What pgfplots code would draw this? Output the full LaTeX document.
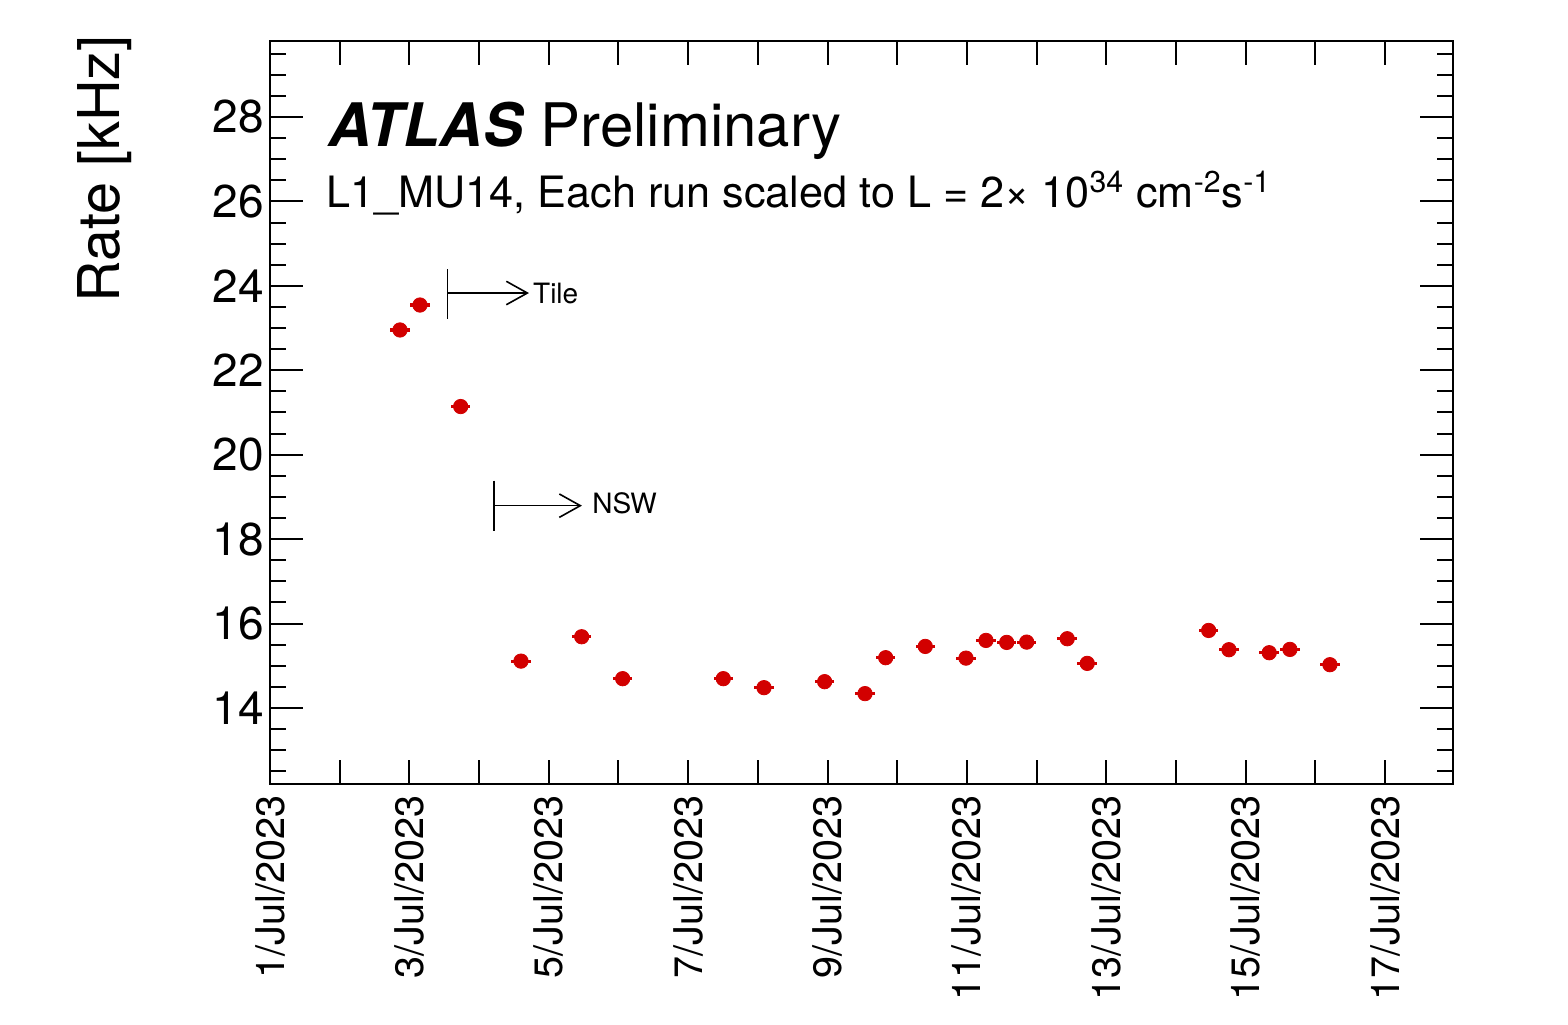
\documentclass[border=0pt]{standalone}
\usepackage{fontspec}
\setmainfont{TeX Gyre Heros}
\usepackage{pgfplots}
\pgfplotsset{compat=1.18}
\usetikzlibrary{arrows.meta}
\definecolor{rootred}{RGB}{210,0,0}

\pgfplotstableread{
x      y       ex
1.865  22.955  0.14
2.152  23.546  0.14
2.736  21.141  0.14
3.601  15.111  0.14
4.472  15.688  0.14
5.060  14.695  0.14
6.504  14.695  0.14
7.088  14.482  0.14
7.958  14.624  0.14
8.537  14.341  0.14
8.834  15.192  0.14
9.402  15.459  0.14
9.986  15.182  0.14
10.273 15.601  0.14
10.570 15.554  0.14
10.857 15.561  0.14
11.439 15.641  0.14
11.726 15.057  0.14
13.468 15.837  0.14
13.759 15.381  0.14
14.337 15.310  0.14
14.634 15.388  0.14
15.208 15.026  0.14
}\ratedata

\begin{document}
\begin{tikzpicture}
\path[use as bounding box] (0,0) rectangle (784pt,512pt);
\begin{axis}[
  at={(135pt,120pt)}, anchor=south west,
  scale only axis, width=591.35pt, height=371.5pt,
  xmin=0, xmax=16.97, ymin=12.2, ymax=29.8,
  axis line style={line width=1.2pt},
  every tick/.style={black, line width=1pt},
  tick align=inside,
  xtick={0,1,...,16},
  xticklabels={1/Jul/2023,,3/Jul/2023,,5/Jul/2023,,7/Jul/2023,,9/Jul/2023,,11/Jul/2023,,13/Jul/2023,,15/Jul/2023,,17/Jul/2023},
  ytick={14,16,...,28},
  minor ytick={12.5,13,...,29.5},
  major tick length=16.5pt,
  minor tick length=8pt,
  xtick style={/pgfplots/major tick length=12pt},
  /pgf/number format/assume math mode=true,
  yticklabel style={font=\fontsize{23pt}{24pt}\selectfont, inner sep=0pt},
  yticklabel shift=3pt,
  xticklabel style={font=\fontsize{19.8pt}{20pt}\selectfont, rotate=90, anchor=east, inner sep=0pt},
  xticklabel shift=5.5pt,
  clip=false,
]
\addplot[only marks, mark=*, mark size=3.6pt, color=rootred,
  mark options={draw=rootred, fill=rootred},
  error bars/.cd, x dir=both, x explicit, error mark=none,
  error bar style={line width=1.6pt, rootred}]
  table[x=x, y=y, x error=ex] {\ratedata};

\draw[line width=0.8pt] (axis cs:2.549,24.397) -- (axis cs:2.549,23.215);
\draw[line width=0.8pt, -{Straight Barb[length=10.5pt, width=11.7pt, line width=0.8pt]}] (axis cs:2.549,23.83) -- (axis cs:3.716,23.83);
\node[anchor=west, inner sep=0pt, font=\fontsize{14pt}{15pt}\selectfont] at (axis cs:3.77,23.83) {Tile};

\draw[line width=0.8pt] (axis cs:3.214,19.384) -- (axis cs:3.214,18.202);
\draw[line width=0.8pt, -{Straight Barb[length=10.5pt, width=11.7pt, line width=0.8pt]}] (axis cs:3.214,18.793) -- (axis cs:4.476,18.793);
\node[anchor=west, inner sep=0pt, font=\fontsize{14pt}{15pt}\selectfont] at (axis cs:4.62,18.85) {NSW};
\end{axis}

\node[rotate=90, anchor=base east, inner sep=0pt, font=\fontsize{28.8pt}{30pt}\selectfont] at (59.5pt,494.5pt) {Rate [kHz]};
\node[anchor=base west, inner sep=0pt, font=\fontsize{30pt}{32pt}\selectfont] at (164pt,438.5pt) {\textbf{\textit{ATLAS}} Preliminary};
\node[anchor=base west, inner sep=0pt, font=\fontsize{21.6pt}{23pt}\selectfont] at (163pt,408pt) {L1\_MU14, Each run scaled to L = 2× 10\textsuperscript{34} cm\textsuperscript{-2}s\textsuperscript{-1}};
\end{tikzpicture}
\end{document}
